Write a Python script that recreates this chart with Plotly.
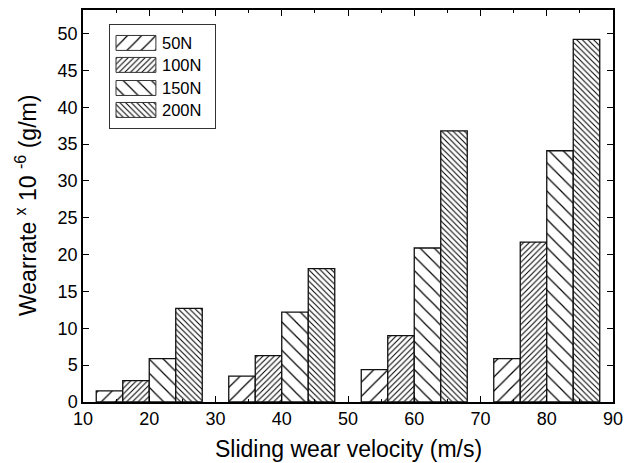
import plotly.graph_objects as go

# ---- data ----
velocity = [20, 40, 60, 80]
loads = ["50N", "100N", "150N", "200N"]
wear_50N = [1.5, 3.5, 4.4, 5.9]
wear_100N = [2.9, 6.3, 9.0, 21.7]
wear_150N = [5.9, 12.2, 20.9, 34.1]
wear_200N = [12.7, 18.1, 36.8, 49.2]
series = [wear_50N, wear_100N, wear_150N, wear_200N]
x_ticks = [10, 20, 30, 40, 50, 60, 70, 80, 90]
y_ticks = [0, 5, 10, 15, 20, 25, 30, 35, 40, 45, 50]

# ---- styles ----
shapes = ["/", "/", "\\", "\\"]
sizes = [10, 4, 10, 4]
solid = [0.12, 0.26, 0.12, 0.26]
bar_w = 4
offsets = [-8, -4, 0, 4]
FONT = "Liberation Sans, Arial, sans-serif"


def patt(sh, sz, so):
    return dict(shape=sh, size=sz, solidity=so, fgcolor="black",
                bgcolor="white", fillmode="replace")


fig = go.Figure()
for name, vals, sh, sz, so, off in zip(loads, series, shapes, sizes, solid, offsets):
    fig.add_trace(go.Bar(
        x=velocity, y=vals, width=bar_w, offset=off, name=name,
        marker=dict(color="white", line=dict(color="#111", width=1.3),
                    pattern=patt(sh, sz, so)),
        showlegend=False, xaxis="x", yaxis="y"))

# custom legend drawn on an inset axis
leg_rows = [0.825, 0.612, 0.388, 0.175]
for name, sh, sz, so, yy in zip(loads, shapes, sizes, solid, leg_rows):
    fig.add_trace(go.Bar(
        y=[yy], x=[0.38], base=[0.057], orientation="h", width=0.145,
        marker=dict(color="white", line=dict(color="#333", width=1),
                    pattern=patt(sh, sz, so)),
        showlegend=False, hoverinfo="skip", xaxis="x2", yaxis="y2"))
    fig.add_annotation(x=0.48, y=yy, xref="x2", yref="y2", text=name, showarrow=False,
                       xanchor="left", yanchor="middle",
                       font=dict(family=FONT, size=16.5, color="black"))

# axis titles
fig.add_annotation(x=0.5, y=0, xref="paper", yref="paper", yshift=-47,
                   text="Sliding wear velocity (m/s)", showarrow=False,
                   xanchor="center", yanchor="middle",
                   font=dict(family=FONT, size=23, color="black"))
fig.add_annotation(x=0, y=0.5, xref="paper", yref="paper", xshift=-57,
                   text="Wearrate <sup>x</sup> 10 <sup>-6</sup> (g/m)", showarrow=False,
                   textangle=-90, xanchor="center", yanchor="middle",
                   font=dict(family=FONT, size=23, color="black"))

axis_common = dict(showline=True, linecolor="black", linewidth=1.5, mirror="allticks",
                   ticks="inside", ticklen=6, tickwidth=1.2, tickcolor="black",
                   showgrid=False, zeroline=False, automargin=False,
                   tickfont=dict(family=FONT, size=18, color="black"),
                   minor=dict(ticks="inside", ticklen=3, tickwidth=1, tickcolor="black"))

fig.update_layout(
    width=625, height=455,
    margin=dict(l=75, r=20, t=2, b=61),
    paper_bgcolor="white", plot_bgcolor="white",
    barmode="overlay",
    xaxis=dict(range=[10, 90], tickvals=x_ticks, ticktext=[str(v) for v in x_ticks],
               **axis_common),
    yaxis=dict(range=[0, 53.2], tickvals=y_ticks, ticktext=[str(v) for v in y_ticks],
               **axis_common),
    xaxis2=dict(domain=[0.051, 0.249], range=[0, 1], anchor="y2", showline=True,
                linecolor="#333", linewidth=1, mirror=True, showticklabels=False,
                ticks="", showgrid=False, zeroline=False, fixedrange=True),
    yaxis2=dict(domain=[0.699, 0.962], range=[0, 1], anchor="x2", showline=True,
                linecolor="#333", linewidth=1, mirror=True, showticklabels=False,
                ticks="", showgrid=False, zeroline=False, fixedrange=True),
)
fig.update_xaxes(minor_dtick=5, selector=dict(anchor="y"))
fig.update_yaxes(minor_dtick=2.5, selector=dict(anchor="x"))

fig.write_html("out.html")
